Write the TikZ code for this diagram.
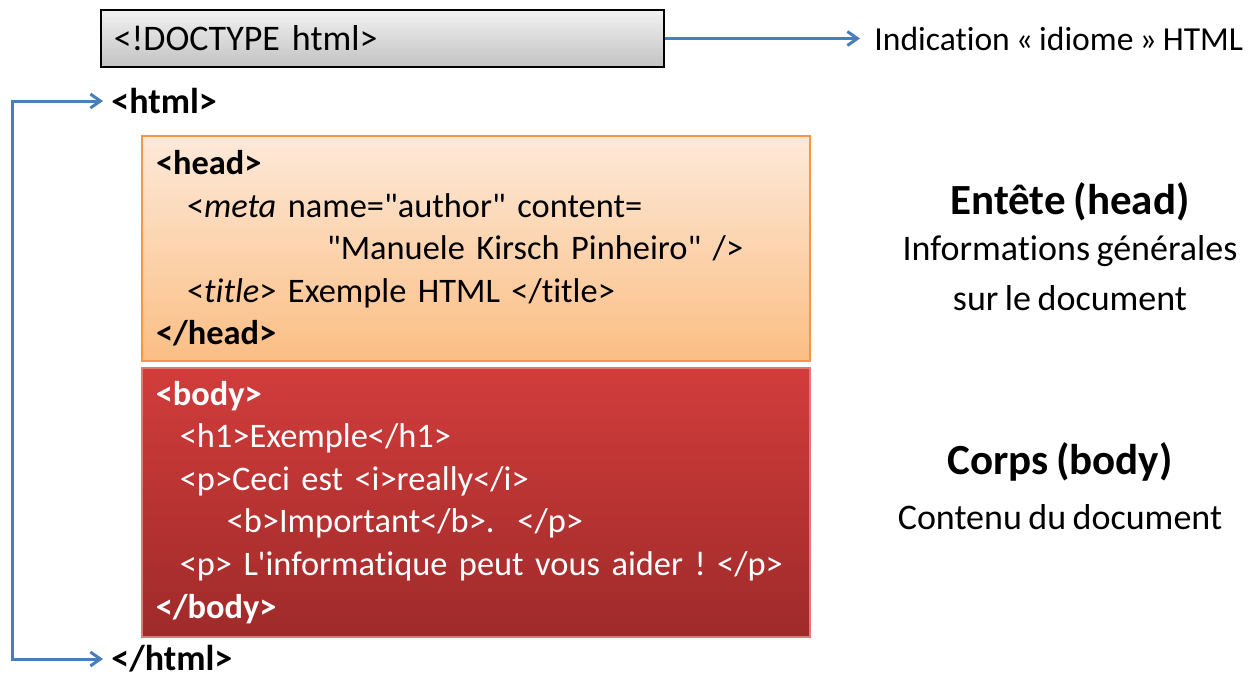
\documentclass[tikz,border=0pt]{standalone}
\usepackage{fontspec}
\setmainfont{Carlito}[Ligatures={TeXOff,NoCommon}, WordSpace=0.8]
\usetikzlibrary{arrows.meta, positioning}
\frenchspacing
\definecolor{linkblue}{HTML}{4A7EBB}
\definecolor{doctop}{HTML}{F2F2F2}
\definecolor{docbottom}{HTML}{C2C2C2}
\definecolor{headtop}{HTML}{FDE9D9}
\definecolor{headbottom}{HTML}{FBBE84}
\definecolor{headborder}{HTML}{F79646}
\definecolor{bodytop}{HTML}{D13D3B}
\definecolor{bodybottom}{HTML}{9F2A2A}
\definecolor{bodyborder}{HTML}{E07A7A}

\begin{document}
\begin{tikzpicture}[
  x=0.5pt, y=-0.5pt,
  >={Straight Barb[length=5pt, width=7pt]},
  docbox/.style={rectangle, draw=black, line width=0.75pt, top color=doctop, bottom color=docbottom, anchor=west, minimum width=281.5pt, minimum height=28.5pt, inner xsep=6.5pt, text width=268.5pt, align=left, font=\fontsize{18}{22}\selectfont},
  codebox/.style={rectangle, anchor=north west, minimum width=334pt, inner xsep=7pt, text width=320pt, align=left, font=\fontsize{17.2}{21.3}\selectfont},
  tag/.style={anchor=west, inner xsep=4pt, inner ysep=1pt, font=\fontsize{18}{22}\selectfont\bfseries},
  sectitle/.style={font=\fontsize{21.5}{26}\selectfont\bfseries},
  secnote/.style={align=center, font=\fontsize{18}{25}\selectfont},
  arrow/.style={->, draw=linkblue, line width=1.5pt}
]
  \useasboundingbox (0,0) rectangle (1254,675);

  % Doctype
  \node[docbox] (doctype) at (100,38.5) {<!DOCTYPE html>};
  \node[anchor=west, inner sep=7pt, font=\fontsize{16.8}{21}\selectfont] (idiom) at (860,38.5) {Indication « idiome » HTML};

  % html tags
  \node[tag] (htmlopen) at (103,101) {<html>};
  \node[tag] (htmlclose) at (103,659) {</html>};
  \coordinate (rail) at (12,0);

  % Head
  \node[codebox, minimum height=112.5pt, draw=headborder, line width=1pt, top color=headtop, bottom color=headbottom] (head) at (141,135) {
    \textbf{<head>}\\
    \hspace*{15.5pt}<\textit{meta} name="author" content=\\
    \hspace*{85.5pt}"Manuele Kirsch Pinheiro" />\\
    \hspace*{15.5pt}<\textit{title}> Exemple HTML </title>\\
    \textbf{</head>}};

  % Body
  \node[codebox, minimum height=134.5pt, draw=bodyborder, line width=0.75pt, top color=bodytop, bottom color=bodybottom, text=white] (body) at (141,367) {
    \textbf{<body>}\\
    \hspace*{12pt}<h1>Exemple</h1>\\
    \hspace*{12pt}<p>Ceci est <i>really</i>\\
    \hspace*{35.5pt}<b>Important</b>.\ \ </p>\\
    \hspace*{12pt}<p> L'informatique peut vous aider ! </p>\\
    \textbf{</body>}};

  % Descriptions
  \node[sectitle] (headtitle) at (1070,202) {Entête (head)};
  \node[secnote] (headnote) at (1070,273) {Informations générales\\sur le document};
  \node[sectitle] (bodytitle) at (1060,462) {Corps (body)};
  \node[secnote] (bodynote) at (1060,517) {Contenu du document};

  \draw[arrow] (doctype) -- (idiom);
  \draw[arrow, <->] (htmlopen.west) -- (htmlopen.west -| rail) -- (htmlclose.west -| rail) -- (htmlclose.west);
\end{tikzpicture}
\end{document}
